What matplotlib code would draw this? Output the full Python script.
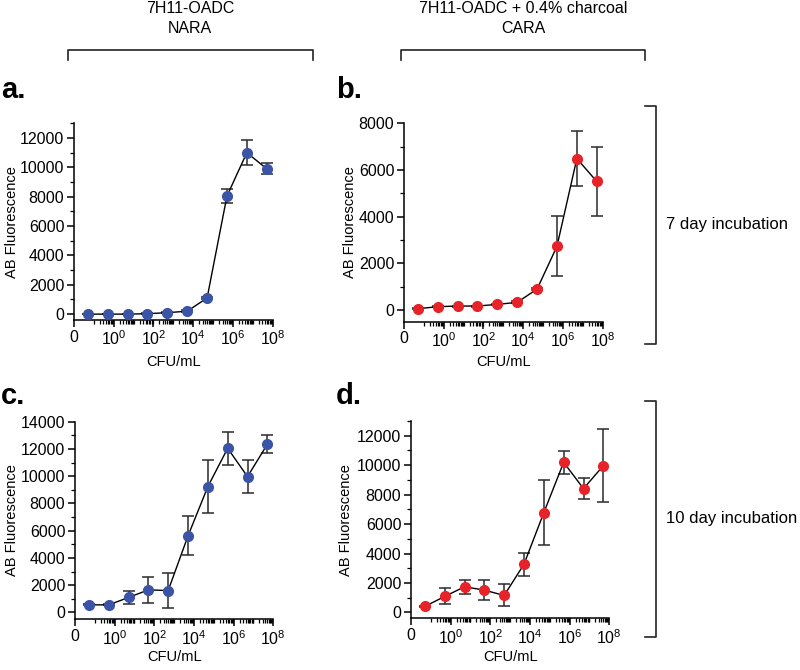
import matplotlib
matplotlib.use("Agg")
import matplotlib.pyplot as plt
from matplotlib.lines import Line2D
from matplotlib.ticker import FixedLocator, FixedFormatter, AutoMinorLocator

plt.rcParams['font.family'] = ['Liberation Sans', 'DejaVu Sans']
plt.rcParams['mathtext.default'] = 'regular'

# ---------------- data ----------------
cfu = [5e-2, 5e-1, 5e0, 5e1, 5e2, 5e3, 5e4, 5e5, 5e6, 5e7]

a_mean = [0, 0, 0, 30, 100, 200, 1100, 8050, 11000, 9900]
a_err = [20, 20, 20, 20, 40, 60, 100, 480, 870, 380]

b_mean = [57, 143, 171, 171, 243, 329, 900, 2730, 6490, 5510]
b_err = [20, 20, 20, 20, 30, 40, 60, 1290, 1190, 1485]

c_mean = [560, 560, 1100, 1660, 1610, 5620, 9235, 12050, 9970, 12340]
c_err = [40, 40, 476, 953, 1307, 1430, 1928, 1195, 1210, 648]

d_mean = [407, 1085, 1740, 1514, 1153, 3277, 6780, 10192, 8407, 9966]
d_err = [50, 543, 463, 667, 746, 791, 2215, 791, 724, 2486]

x_major = [1e-2, 1e0, 1e2, 1e4, 1e6, 1e8]
x_major_labels = ['0', '$10^0$', '$10^2$', '$10^4$', '$10^6$', '$10^8$']

col_headers = [['7H11-OADC', 'NARA'], ['7H11-OADC + 0.4% charcoal', 'CARA']]
row_headers = ['7 day incubation', '10 day incubation']
panel_letters = ['a.', 'b.', 'c.', 'd.']
ylabel = 'AB Fluorescence'
xlabel = 'CFU/mL'

BLUE = '#3b54a6'
RED = '#e52329'

W, H = 800, 670
fig = plt.figure(figsize=(W / 100, H / 100), dpi=100)


def rect(l, r, t, b):
    return [l / W, 1 - b / H, (r - l) / W, (b - t) / H]


panels = [
    dict(rect=rect(74, 272.7, 123.3, 320), mean=a_mean, err=a_err, color=BLUE,
         ylim=(-400, 13000), yticks=[0, 2000, 4000, 6000, 8000, 10000, 12000],
         ylab_px=12, xlab_px=362),
    dict(rect=rect(404, 602.7, 123.3, 321.7), mean=b_mean, err=b_err, color=RED,
         ylim=(-500, 8000), yticks=[0, 2000, 4000, 6000, 8000],
         ylab_px=350, xlab_px=362),
    dict(rect=rect(75, 273.3, 421.7, 619.3), mean=c_mean, err=c_err, color=BLUE,
         ylim=(-500, 14000), yticks=[0, 2000, 4000, 6000, 8000, 10000, 12000, 14000],
         ylab_px=12, xlab_px=657),
    dict(rect=rect(411, 609.3, 421, 618.3), mean=d_mean, err=d_err, color=RED,
         ylim=(-400, 13000), yticks=[0, 2000, 4000, 6000, 8000, 10000, 12000],
         ylab_px=346, xlab_px=657),
]

minor_x = []
for d in range(-1, 8):
    for m in range(1, 10):
        v = m * 10.0 ** d
        if not any(abs(v - mj) / mj < 1e-9 for mj in x_major):
            minor_x.append(v)

for p in panels:
    ax = fig.add_axes(p['rect'])
    ax.set_xscale('log')
    ax.errorbar(cfu, p['mean'], yerr=p['err'], fmt='none', ecolor='#2a2a2a',
                elinewidth=1.1, capsize=4, capthick=1.1, zorder=2)
    ax.plot(cfu, p['mean'], '-', color='black', lw=1.0, zorder=3)
    ax.plot(cfu, p['mean'], 'o', color=p['color'], ms=7, mec=p['color'], zorder=4,
            clip_on=False)
    ax.set_xlim(1e-2, 1e8)
    ax.set_ylim(*p['ylim'])
    ax.xaxis.set_major_locator(FixedLocator(x_major))
    ax.xaxis.set_major_formatter(FixedFormatter(x_major_labels))
    ax.xaxis.set_minor_locator(FixedLocator(minor_x))
    ax.xaxis.set_minor_formatter(FixedFormatter([''] * len(minor_x)))
    ax.set_yticks(p['yticks'])
    ax.yaxis.set_minor_locator(AutoMinorLocator(2))
    for s in ['top', 'right']:
        ax.spines[s].set_visible(False)
    for s in ['left', 'bottom']:
        ax.spines[s].set_linewidth(1.1)
    ax.tick_params(which='major', length=5, width=1.1, labelsize=11.5, pad=2)
    ax.tick_params(which='minor', length=3, width=0.9)
    l, b, w, h = p['rect']
    ax.set_ylabel(ylabel, fontsize=10.5)
    ax.yaxis.set_label_coords((p['ylab_px'] / W - l) / w, 0.5)
    ax.set_xlabel(xlabel, fontsize=10.5)
    ax.xaxis.set_label_coords(0.5, ((1 - p['xlab_px'] / H) - b) / h)
    ax.xaxis.label.set_va('center')
    ax.yaxis.label.set_va('center')


def fx(x):
    return x / W


def fy(y):
    return 1 - y / H


def fline(xs, ys):
    fig.add_artist(Line2D([fx(v) for v in xs], [fy(v) for v in ys],
                          color='#222222', lw=1.2, transform=fig.transFigure))


# panel letters
for (lx, ly), lab in zip([(1, 98), (336, 98), (1, 403.5), (336, 403.5)], panel_letters):
    fig.text(fx(lx), fy(ly), lab, fontsize=21, fontweight='bold', ha='left', va='baseline')

# column headers and brackets
for (cx, l, r), hdr in zip([(190, 67.7, 312.7), (523, 400.5, 645.3)], col_headers):
    fig.text(fx(cx), fy(8.5), hdr[0], fontsize=11.5, ha='center', va='center')
    fig.text(fx(cx), fy(28.5), hdr[1], fontsize=11.5, ha='center', va='center')
    fline([l, l, r, r], [60, 50, 50, 60])

# row headers and brackets
for (t, b, ty), hdr in zip([(105.7, 344, 225), (400.7, 637.3, 519)], row_headers):
    fline([645, 655.5, 655.5, 645], [t, t, b, b])
    fig.text(fx(666.5), fy(ty), hdr, fontsize=12, ha='left', va='center')

fig.savefig('out.png', dpi=100)
